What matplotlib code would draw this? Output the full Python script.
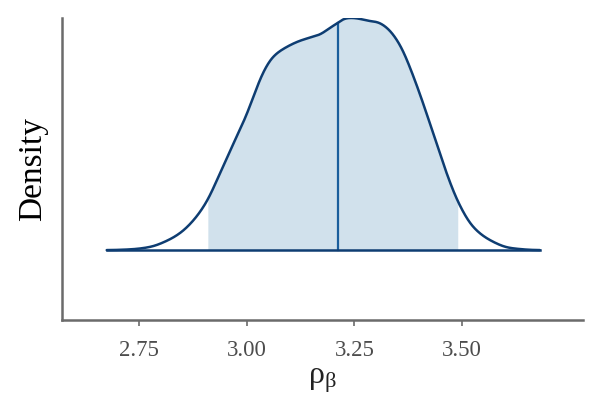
import matplotlib
matplotlib.use("Agg")
import matplotlib.pyplot as plt
import numpy as np

# density curve (scaled so that the peak is 1)
x_vals = [2.674, 2.728, 2.774, 2.814, 2.844, 2.874, 2.909, 2.930, 2.953, 2.977,
          3.000, 3.014, 3.037, 3.060, 3.093, 3.123, 3.153, 3.170, 3.193, 3.212,
          3.223, 3.240, 3.263, 3.279, 3.302, 3.326, 3.356, 3.386, 3.407, 3.433,
          3.456, 3.491, 3.526, 3.565, 3.612, 3.681]
dens = [0.000, 0.003, 0.013, 0.040, 0.072, 0.124, 0.216, 0.300, 0.395, 0.492,
        0.585, 0.655, 0.763, 0.832, 0.875, 0.901, 0.918, 0.927, 0.957, 0.978,
        0.996, 1.000, 0.996, 0.987, 0.983, 0.957, 0.884, 0.754, 0.647, 0.504,
        0.375, 0.207, 0.099, 0.043, 0.009, 0.000]
interval = [2.909, 3.491]
median = 3.212
xticks = [2.75, 3.00, 3.25, 3.50]
xtick_labels = ["2.75", "3.00", "3.25", "3.50"]

plt.rcParams['font.family'] = ['Liberation Serif', 'DejaVu Serif']
plt.rcParams['mathtext.fontset'] = 'custom'
plt.rcParams['mathtext.rm'] = 'Liberation Serif'
plt.rcParams['mathtext.it'] = 'Liberation Serif:italic'


def pchip(x, y, xn):
    x = np.asarray(x, float)
    y = np.asarray(y, float)
    h = np.diff(x)
    delta = np.diff(y) / h
    n = len(x)
    d = np.zeros(n)
    for k in range(1, n - 1):
        if delta[k - 1] * delta[k] > 0:
            w1 = 2 * h[k] + h[k - 1]
            w2 = h[k] + 2 * h[k - 1]
            d[k] = (w1 + w2) / (w1 / delta[k - 1] + w2 / delta[k])
        else:
            d[k] = 0.0
    idx = np.clip(np.searchsorted(x, xn) - 1, 0, n - 2)
    t = (xn - x[idx]) / h[idx]
    h00 = 2 * t**3 - 3 * t**2 + 1
    h10 = t**3 - 2 * t**2 + t
    h01 = -2 * t**3 + 3 * t**2
    h11 = t**3 - t**2
    return (h00 * y[idx] + h10 * h[idx] * d[idx] + h01 * y[idx + 1]
            + h11 * h[idx] * d[idx + 1])


fig = plt.figure(figsize=(6.02, 4.18), dpi=100)
ax = fig.add_axes([0.103, 0.234, 0.865, 0.723])

xs = np.array(x_vals)
fine_x = np.linspace(xs.min(), xs.max(), 1200)
raw_d = pchip(x_vals, dens, fine_x)
# light smoothing of the drawn curve (removes kinks of the hand-read points)
step = fine_x[1] - fine_x[0]
sig = 0.009 / step
kx = np.arange(-int(4 * sig), int(4 * sig) + 1)
kern = np.exp(-0.5 * (kx / sig) ** 2)
kern /= kern.sum()
fine_d = np.convolve(np.pad(raw_d, len(kx) // 2, mode='edge'), kern, mode='valid')
fine_d = fine_d / fine_d.max() * max(dens)

light = "#d1e1ec"
dark = "#0e3d72"
mid = "#1a5e9c"

mask = (fine_x >= interval[0]) & (fine_x <= interval[1])
ax.fill_between(fine_x[mask], 0, fine_d[mask], color=light, linewidth=0, zorder=1)
ax.plot(fine_x, fine_d, color=dark, linewidth=1.8, zorder=3, solid_capstyle='round')
ax.plot([xs.min(), xs.max()], [0, 0], color=dark, linewidth=1.8, zorder=3)
med_h = float(np.interp(median, fine_x, fine_d))
ax.plot([median, median], [0, med_h], color=mid, linewidth=1.6, zorder=2)

ax.set_xlim(2.570, 3.781)
ax.set_ylim(-0.302, 1.0)

for s in ["top", "right"]:
    ax.spines[s].set_visible(False)
for s in ["left", "bottom"]:
    ax.spines[s].set_color("#6b6b6b")
    ax.spines[s].set_linewidth(1.8)

ax.set_yticks([])
ax.set_xticks(xticks)
ax.set_xticklabels(xtick_labels)
ax.tick_params(axis='x', colors="#6b6b6b", length=4, width=1.2, labelsize=16.5,
               labelcolor="#4d4d4d", pad=10)

ax.set_ylabel("Density", fontsize=24, color="black", labelpad=10)
ax.set_xlabel(r"$\mathrm{\rho}_{\mathrm{\beta}}$", fontsize=23, color="#222222", labelpad=4)

fig.savefig("out.png", dpi=100)
